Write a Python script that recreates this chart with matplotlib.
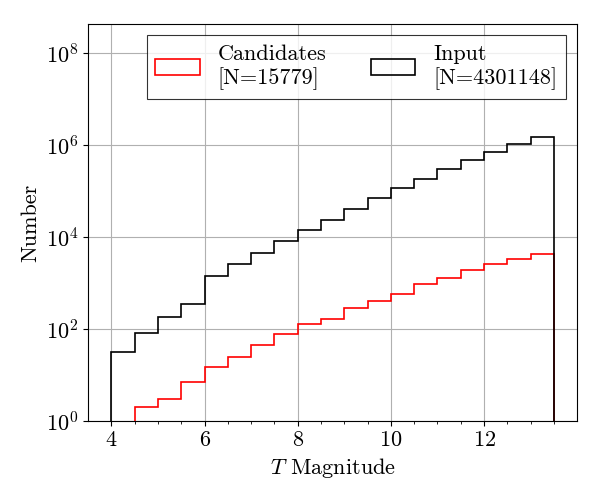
import numpy as np
import matplotlib
matplotlib.use("Agg")
import matplotlib.pyplot as plt

plt.rcParams['font.family'] = 'serif'
plt.rcParams['font.serif'] = ['cmr10']
plt.rcParams['mathtext.fontset'] = 'cm'
plt.rcParams['axes.formatter.use_mathtext'] = True
plt.rcParams['font.size'] = 16

# Bin edges (T magnitude), 0.5 mag wide
edges = np.arange(4.0, 13.51, 0.5)

# Counts per bin
input_counts = [31, 80, 180, 349, 1420, 2590, 4420, 8060, 13970, 23400,
                39900, 69000, 114000, 179000, 296000, 472000, 692000,
                1050000, 1490000]
cand_counts = [0, 2, 3, 7, 15, 25, 44, 77, 128, 163, 281, 406, 577, 951,
               1284, 1884, 2590, 3325, 4270]

centers = 0.5 * (edges[:-1] + edges[1:])

fig, ax = plt.subplots(figsize=(6, 5), dpi=100)
fig.subplots_adjust(left=0.147, right=0.962, bottom=0.158, top=0.952)

# red histogram starts at the first non-empty bin
ax.hist(centers[1:], bins=edges[1:], weights=cand_counts[1:], histtype='step',
        color='red', lw=1.2, log=True, label='Candidates\n[N=15779]')
ax.hist(centers, bins=edges, weights=input_counts, histtype='step',
        color='black', lw=1.2, log=True, label='Input\n[N=4301148]')

ax.set_xlim(3.5, 14.0)
ax.set_ylim(1, 10**8.63)
ax.set_xticks([4, 6, 8, 10, 12])
ax.set_xticks(np.arange(4, 14, 0.5), minor=True)
ax.set_yticks([1e0, 1e2, 1e4, 1e6, 1e8])
ax.yaxis.set_minor_locator(matplotlib.ticker.NullLocator())
ax.grid(True, color='#b0b0b0', lw=0.8)
ax.set_axisbelow(True)

ax.set_xlabel(r'$T$ Magnitude')
ax.set_ylabel('Number')

leg = ax.legend(loc='upper right', ncol=2, fancybox=False,
                edgecolor='black', framealpha=0.8, fontsize=16)
leg.get_frame().set_linewidth(0.8)

plt.savefig('out.png', dpi=100)
